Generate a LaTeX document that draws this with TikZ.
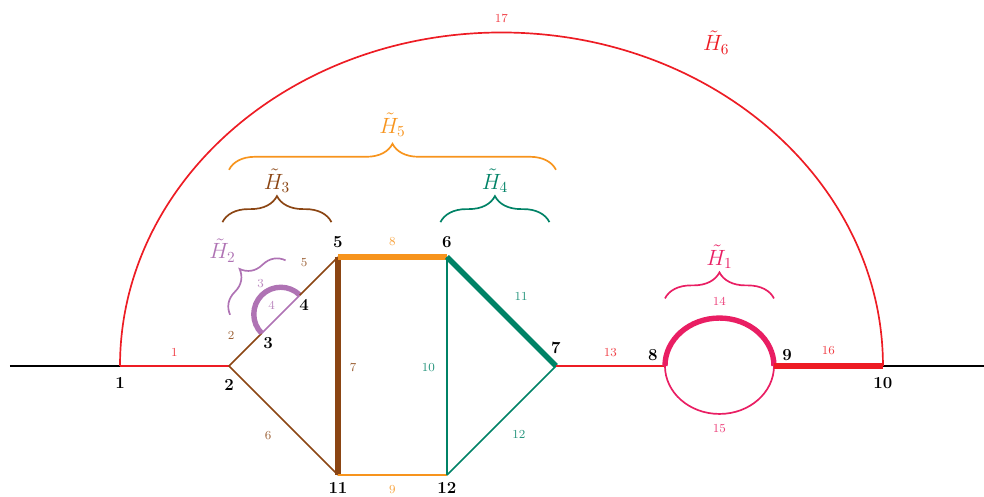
\documentclass[tikz,border=0pt]{standalone}
\usepackage{amsmath}
\usetikzlibrary{decorations.pathreplacing}

\definecolor{hred}{RGB}{237,28,36}
\definecolor{hbrown}{RGB}{139,69,19}
\definecolor{horange}{RGB}{247,148,29}
\definecolor{hteal}{RGB}{0,130,102}
\definecolor{hpink}{RGB}{233,30,99}
\definecolor{hpurple}{RGB}{175,115,180}

\begin{document}
\begin{tikzpicture}[x=2.5cm,y=2.5cm,
        thinedge/.style={line width=1.1pt},
        thickedge/.style={line width=3.5pt},
        hbrace/.style={line width=1.1pt,decorate,decoration={brace,amplitude=17pt}},
        vlab/.style={font=\fontsize{11}{13}\selectfont\bfseries,inner sep=1pt},
        elab/.style={font=\fontsize{8}{9}\selectfont,inner sep=1pt},
        hlab/.style={font=\fontsize{14.4}{17}\selectfont,inner sep=1pt}]
        \useasboundingbox (-1.101,-1.193) rectangle (7.927,3.358);

        % vertices
        \foreach \n/\x/\y in {1/0/0,2/1/0,3/1.3/0.3,4/1.65/0.65,5/2/1,6/3/1,
                              7/4/0,8/5/0,9/6/0,10/7/0,11/2/-1,12/3/-1}{
        \coordinate (v\n) at (\x,\y);
        }
        \coordinate (lft) at (-1.01,0);
        \coordinate (rgt) at (7.93,0);

        % external legs
        \draw[thinedge] (lft) -- (v1);
        \draw[thinedge] (v10) -- (rgt);

        % edges
        \draw[thinedge,hred] (v1) -- (v2);
        \draw[thinedge,hbrown] (v2) -- (v3);
        \draw[thinedge,hpurple] (v3) -- (v4);
        \draw[thickedge,hpurple] (v3) arc[start angle=225,end angle=45,radius=0.2475];
        \draw[thinedge,hbrown] (v4) -- (v5);
        \draw[thinedge,hbrown] (v2) -- (v11);
        \draw[thickedge,hbrown] (v5) -- (v11);
        \draw[thickedge,horange] (v5) -- (v6);
        \draw[thinedge,horange] (v11) -- (v12);
        \draw[thinedge,hteal] (v6) -- (v12);
        \draw[thickedge,hteal] (v6) -- (v7);
        \draw[thinedge,hteal] (v12) -- (v7);
        \draw[thinedge,hred] (v7) -- (v8);
        \draw[thickedge,hpink] (v8) arc[start angle=180,end angle=0,x radius=0.5,y radius=0.44];
        \draw[thinedge,hpink] (v8) arc[start angle=180,end angle=360,x radius=0.5,y radius=0.44];
        \draw[thickedge,hred] (v9) -- (v10);
        \draw[thinedge,hred] (v1) arc[start angle=180,end angle=0,x radius=3.5,y radius=3.06];

        % edge numbers
        \foreach \t/\x/\y/\c in {1/0.5/0.12/hred,2/1.02/0.28/hbrown,3/1.29/0.76/hpurple,
                                 4/1.39/0.56/hpurple,5/1.69/0.95/hbrown,6/1.36/-0.64/hbrown,
                                 7/2.14/-0.01/hbrown,8/2.5/1.14/horange,9/2.5/-1.13/horange,
                                 10/2.83/-0.01/hteal,11/3.68/0.64/hteal,12/3.66/-0.63/hteal,
                                 13/4.5/0.12/hred,14/5.5/0.59/hpink,15/5.5/-0.57/hpink,
                                 16/6.5/0.14/hred,17/3.5/3.19/hred}{
        \node[elab,text=\c!85] (e\t) at (\x,\y) {\t};
        }

        % vertex numbers
        \foreach \n/\x/\y in {1/0/-0.16,2/1/-0.17,3/1.36/0.21,4/1.69/0.56,5/2/1.14,6/3/1.14,
                              7/4/0.17,8/4.89/0.1,9/6.12/0.1,10/7/-0.16,11/2/-1.12,12/3/-1.12}{
        \node[vlab] (l\n) at (\x,\y) {\n};
        }

        % subgraphs
        \draw[hbrace,hpink] (5,0.62) -- (6,0.62);
        \draw[hbrace,hpurple] (1.01,0.47) -- (1.52,0.97);
        \draw[hbrace,hbrown] (0.94,1.32) -- (1.94,1.32);
        \draw[hbrace,hteal] (2.94,1.32) -- (3.94,1.32);
        \draw[hbrace,horange] (1,1.8) -- (4,1.8);

        \node[hlab,text=hpink] (h1) at (5.5,1.0) {$\tilde{H}_1$};
        \node[hlab,text=hpurple] (h2) at (0.94,1.06) {$\tilde{H}_2$};
        \node[hlab,text=hbrown] (h3) at (1.44,1.7) {$\tilde{H}_3$};
        \node[hlab,text=hteal] (h4) at (3.44,1.7) {$\tilde{H}_4$};
        \node[hlab,text=horange] (h5) at (2.5,2.21) {$\tilde{H}_5$};
        \node[hlab,text=hred] (h6) at (5.47,2.97) {$\tilde{H}_6$};
\end{tikzpicture}
\end{document}
